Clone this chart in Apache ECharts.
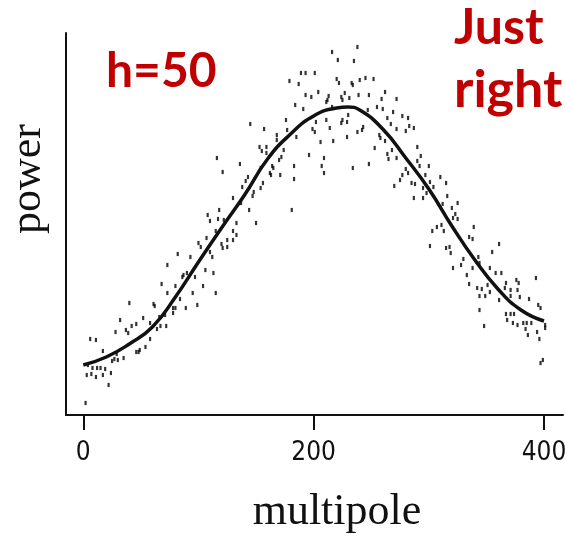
<!DOCTYPE html>
<html>
<head>
<meta charset="utf-8">
<script src="https://cdn.jsdelivr.net/npm/echarts@6/dist/echarts.min.js"></script>
<style>
  html, body { margin: 0; padding: 0; background: #fff; }
  #main { width: 565px; height: 536px; }
</style>
</head>
<body>
<div id="main"></div>
<script>
// x tick labels
var xTicks = [0, 200, 400];

// smooth fit, [multipole, power]
var fitCurve = [
  [0, 50], [20, 58], [40, 71], [60, 88], [80, 118], [100, 153], [120, 187],
  [140, 220], [160, 256], [180, 281], [200, 299], [220, 307], [230, 308],
  [240, 305], [260, 286], [280, 257], [300, 226], [320, 189], [340, 155],
  [360, 126], [380, 105], [400, 94]
];

// measured band powers, [multipole, power]
var measured = [
  [68,131],[73,122],[40,112],[61,111],[62,109],[80,107],[78,102],[71,100],[66,98],[52,97],
  [32,95],[58,92],[46,91],[42,89],[67,89],[72,89],[37,85],[28,83],[64,86],[39,82],
  [6,76],[11,75],[58,76],[54,68],[49,65],[46,63],[48,63],[17,64],[29,61],[35,57],
  [27,56],[25,54],[30,55],[4,50],[8,47],[12,47],[15,47],[19,46],[3,40],[7,41],
  [11,38],[17,40],[24,42],[22,30],[2,12],[73,150],[145,291],[181,205],
  [116,257],[136,251],[121,243],[162,242],[143,238],[141,234],[156,232],[138,228],[154,227],[148,223],
  [147,219],[130,217],[137,212],[118,205],[144,205],[108,200],[110,194],[117,196],[122,195],[133,192],
  [150,192],[115,184],[130,184],[133,180],[107,177],[125,175],[130,175],[100,172],[102,168],[120,171],
  [121,167],[125,168],[110,163],[112,158],[82,161],[93,158],[106,145],[113,142],[87,140],[90,142],
  [86,138],[97,138],[80,129],[104,129],[95,122],[115,122],[84,116],[99,110],[89,107],[78,107],
  [216,363],[221,355],[235,354],[189,342],[193,342],[201,342],[179,334],[187,331],[220,336],[222,332],
  [233,332],[234,330],[204,323],[193,320],[198,318],[213,319],[212,315],[211,313],[224,318],[227,322],
  [225,315],[231,317],[184,310],[191,306],[216,308],[230,300],[225,295],[229,293],[224,292],[211,295],
  [202,293],[176,295],[157,286],[199,286],[201,283],[214,287],[168,280],[177,285],[185,278],[168,275],
  [206,273],[217,274],[229,278],[153,268],[159,268],[155,264],[159,262],[174,265],[172,258],[196,260],
  [209,257],[154,247],[164,249],[165,247],[170,255],[183,249],[207,249],[234,247],[163,240],[171,240],
  [209,242],[183,236],
  [238,368],[240,335],[245,337],[252,336],[262,323],[239,320],[248,320],[259,316],[272,316],[255,308],
  [260,306],[247,305],[269,303],[277,299],[282,297],[264,297],[267,291],[283,289],[287,287],[272,286],
  [243,288],[242,285],[238,283],[280,284],[257,280],[258,277],[262,274],[253,267],[290,268],[268,265],
  [264,261],[293,259],[265,256],[272,257],[290,254],[248,251],[292,249],[300,249],[280,246],[277,240],
  [282,242],[297,240],[310,238],[275,235],[285,232],[288,231],[270,229],[301,233],[304,228],[295,227],
  [298,222],[287,217],[295,217],[312,211],
  [315,232],[316,219],[325,212],[320,207],[323,201],[325,196],[321,197],[303,184],[307,188],[311,190],
  [313,184],[301,169],[315,167],[318,168],[319,162],[339,188],[335,178],[338,176],[361,171],[355,163],
  [343,158],[330,156],[328,150],[321,147],[338,147],[333,140],[344,152],[353,147],[358,142],[363,142],
  [335,131],[342,127],[346,126],[351,130],[344,119],[349,119],[353,123],[376,135],[378,132],[367,132],
  [366,127],[371,125],[371,119],[377,125],[379,118],[361,115],[344,105],[387,116],[393,137],[395,110],
  [397,107],[367,101],[371,101],[374,101],[368,95],[373,92],[377,90],[382,92],[385,92],[389,92],
  [384,86],[386,80],[394,83],[396,76],[401,90],[401,87],[348,89],[399,55],[397,52]
];

var ink = '#111';
var red = '#c00000';
var serif = "'Liberation Serif', 'DejaVu Serif', serif";
var narrow = "'Liberation Sans Narrow', 'DejaVu Sans Condensed', 'Liberation Sans', sans-serif";
var bold = "Lato, 'Open Sans', sans-serif";

var myChart = echarts.init(document.getElementById('main'));
myChart.setOption({
  animation: false,
  backgroundColor: '#fff',
  grid: { left: 66, top: 33, right: 2, bottom: 121, containLabel: false, outerBoundsMode: 'none' },
  xAxis: {
    type: 'value',
    min: -15,
    max: 416.5,
    splitLine: { show: false },
    axisLine: { lineStyle: { color: ink, width: 2 } },
    axisTick: { show: true, customValues: xTicks, length: 15, lineStyle: { color: ink, width: 2 } },
    axisLabel: { customValues: xTicks, margin: 25, fontSize: 26, fontFamily: narrow, color: ink }
  },
  yAxis: {
    type: 'value',
    min: 0,
    max: 382,
    splitLine: { show: false },
    axisLine: { show: true, onZero: false, lineStyle: { color: ink, width: 2 } },
    axisTick: { show: false },
    axisLabel: { show: false }
  },
  graphic: [
    { type: 'text', x: 28, y: 179, rotation: Math.PI / 2,
      style: { text: 'power', font: '44px ' + serif, fill: ink, align: 'center', verticalAlign: 'middle', textAlign: 'center', textVerticalAlign: 'middle' } },
    { type: 'text', x: 337, y: 512,
      style: { text: 'multipole', font: '44px ' + serif, fill: ink, align: 'center', verticalAlign: 'middle', textAlign: 'center', textVerticalAlign: 'middle' } },
    { type: 'text', x: 106, y: 72,
      style: { text: 'h=50', font: 'bold 48px ' + bold, fill: red, align: 'left', verticalAlign: 'middle', textAlign: 'left', textVerticalAlign: 'middle' } },
    { type: 'text', x: 454, y: 28,
      style: { text: 'Just', font: 'bold 50px ' + bold, fill: red, align: 'left', verticalAlign: 'middle', textAlign: 'left', textVerticalAlign: 'middle' } },
    { type: 'text', x: 454, y: 90,
      style: { text: 'right', font: 'bold 52px ' + bold, fill: red, align: 'left', verticalAlign: 'middle', textAlign: 'left', textVerticalAlign: 'middle' } }
  ],
  series: [
    {
      name: 'data',
      type: 'scatter',
      data: measured,
      symbol: 'rect',
      symbolSize: [2.2, 4.2],
      itemStyle: { color: '#000' },
      silent: true
    },
    {
      name: 'fit',
      type: 'line',
      data: fitCurve,
      smooth: true,
      showSymbol: false,
      lineStyle: { color: ink, width: 3.5 },
      silent: true,
      z: 3
    }
  ]
});
</script>
</body>
</html>
